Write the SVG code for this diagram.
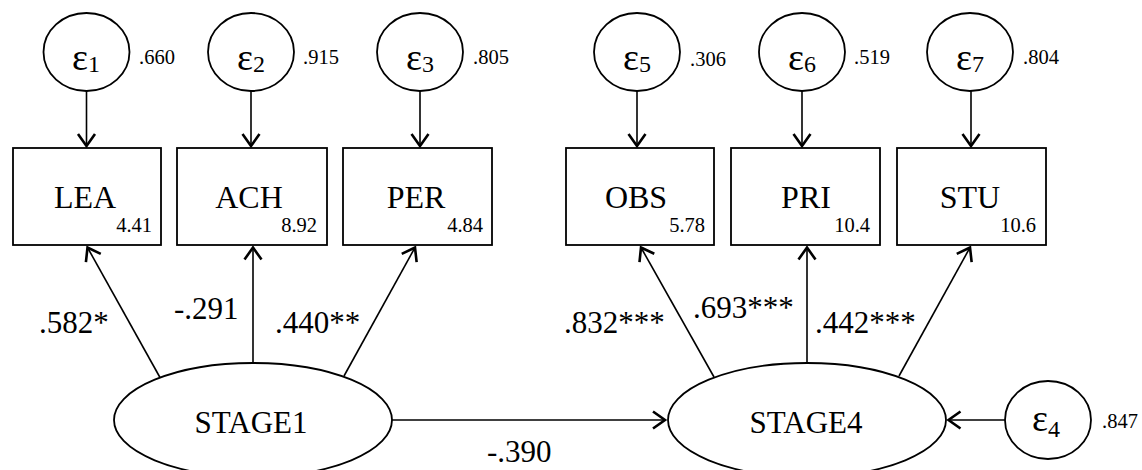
<svg xmlns="http://www.w3.org/2000/svg" width="1142" height="470" viewBox="0 0 1142 470">
<style>
  .shape { fill: #fff; stroke: #000; stroke-width: 1.8; }
  .conn { fill: none; stroke: #000; stroke-width: 1.6; marker-end: url(#ah); }
  text { font-family: "Liberation Serif", "Times New Roman", serif; fill: #000; }
  .lbl { font-size: 32px; text-anchor: middle; }
  .lat { font-size: 31px; text-anchor: middle; }
  .num { font-size: 20.5px; text-anchor: end; }
  .var { font-size: 20.5px; }
  .coef { font-size: 31px; }
  .eps { font-size: 38px; text-anchor: middle; }
  .sub { font-size: 24px; }
</style>
<defs>
  <marker id="ah" markerUnits="userSpaceOnUse" markerWidth="30" markerHeight="30" viewBox="-15 -15 30 30" refX="0" refY="0" orient="auto" overflow="visible">
    <path d="M-12,-8.5 L0,0 L-12,8.5" fill="none" stroke="#000" stroke-width="2.6"/>
  </marker>
</defs>

<g id="connectors">
  <line class="conn" x1="86.5" y1="91" x2="86.5" y2="146"/>
  <line class="conn" x1="251" y1="91" x2="251" y2="146"/>
  <line class="conn" x1="420" y1="91" x2="420" y2="146"/>
  <line class="conn" x1="637" y1="91" x2="637" y2="146"/>
  <line class="conn" x1="802" y1="91" x2="802" y2="146"/>
  <line class="conn" x1="971" y1="91" x2="971" y2="146"/>
  <line class="conn" x1="160" y1="377.5" x2="87.5" y2="247.5"/>
  <line class="conn" x1="253" y1="363" x2="253" y2="247.5"/>
  <line class="conn" x1="344" y1="376" x2="415" y2="247.5"/>
  <line class="conn" x1="714" y1="377" x2="641" y2="247.5"/>
  <line class="conn" x1="807" y1="363" x2="807" y2="247.5"/>
  <line class="conn" x1="899" y1="376" x2="970" y2="247.5"/>
  <line class="conn" x1="392" y1="420" x2="665" y2="420"/>
  <line class="conn" x1="1005" y1="420" x2="948.5" y2="420"/>
</g>

<g id="e1">
  <ellipse class="shape" cx="86.5" cy="52" rx="43" ry="39"/>
  <text class="eps" x="86" y="70">ε<tspan class="sub" dy="2">1</tspan></text>
  <text class="var" x="139" y="64">.660</text>
</g>
<g id="e2">
  <ellipse class="shape" cx="251" cy="52" rx="43" ry="39"/>
  <text class="eps" x="251" y="70">ε<tspan class="sub" dy="2">2</tspan></text>
  <text class="var" x="303" y="64">.915</text>
</g>
<g id="e3">
  <ellipse class="shape" cx="420" cy="52" rx="43" ry="39"/>
  <text class="eps" x="420" y="70">ε<tspan class="sub" dy="2">3</tspan></text>
  <text class="var" x="473" y="64">.805</text>
</g>
<g id="e5">
  <ellipse class="shape" cx="637" cy="52" rx="43" ry="39"/>
  <text class="eps" x="637" y="70">ε<tspan class="sub" dy="2">5</tspan></text>
  <text class="var" x="690" y="66">.306</text>
</g>
<g id="e6">
  <ellipse class="shape" cx="802" cy="52" rx="43" ry="39"/>
  <text class="eps" x="802" y="70">ε<tspan class="sub" dy="2">6</tspan></text>
  <text class="var" x="854" y="64">.519</text>
</g>
<g id="e7">
  <ellipse class="shape" cx="970" cy="52" rx="43" ry="39"/>
  <text class="eps" x="970" y="70">ε<tspan class="sub" dy="2">7</tspan></text>
  <text class="var" x="1023" y="64">.804</text>
</g>
<g id="e4">
  <ellipse class="shape" cx="1048" cy="420" rx="43" ry="39"/>
  <text class="eps" x="1046" y="431">ε<tspan class="sub" dy="6">4</tspan></text>
  <text class="var" x="1102" y="428">.847</text>
</g>

<g id="LEA">
  <rect class="shape" x="13" y="148" width="148" height="97"/>
  <text class="lbl" x="85" y="208">LEA</text>
  <text class="num" x="152" y="232">4.41</text>
</g>
<g id="ACH">
  <rect class="shape" x="177" y="148" width="150" height="97"/>
  <text class="lbl" x="249" y="208">ACH</text>
  <text class="num" x="317" y="232">8.92</text>
</g>
<g id="PER">
  <rect class="shape" x="343" y="148" width="149" height="97"/>
  <text class="lbl" x="416" y="208">PER</text>
  <text class="num" x="483" y="232">4.84</text>
</g>
<g id="OBS">
  <rect class="shape" x="566" y="148" width="148" height="97"/>
  <text class="lbl" x="636" y="208">OBS</text>
  <text class="num" x="705" y="232">5.78</text>
</g>
<g id="PRI">
  <rect class="shape" x="731" y="148" width="149" height="97"/>
  <text class="lbl" x="806" y="208">PRI</text>
  <text class="num" x="870" y="232">10.4</text>
</g>
<g id="STU">
  <rect class="shape" x="897" y="148" width="149" height="97"/>
  <text class="lbl" x="970" y="208">STU</text>
  <text class="num" x="1036" y="232">10.6</text>
</g>

<g id="STAGE1">
  <ellipse class="shape" cx="253" cy="420" rx="139" ry="57"/>
  <text class="lat" x="251" y="433">STAGE1</text>
</g>
<g id="STAGE4">
  <ellipse class="shape" cx="807" cy="420" rx="139" ry="57"/>
  <text class="lat" x="806" y="433">STAGE4</text>
</g>

<g id="labels">
  <text class="coef" x="39" y="333">.582*</text>
  <text class="coef" x="174" y="319">-.291</text>
  <text class="coef" x="275" y="333">.440**</text>
  <text class="coef" x="564" y="333">.832***</text>
  <text class="coef" x="693" y="318">.693***</text>
  <text class="coef" x="815" y="333">.442***</text>
  <text class="coef" x="487" y="462">-.390</text>
</g>
</svg>
